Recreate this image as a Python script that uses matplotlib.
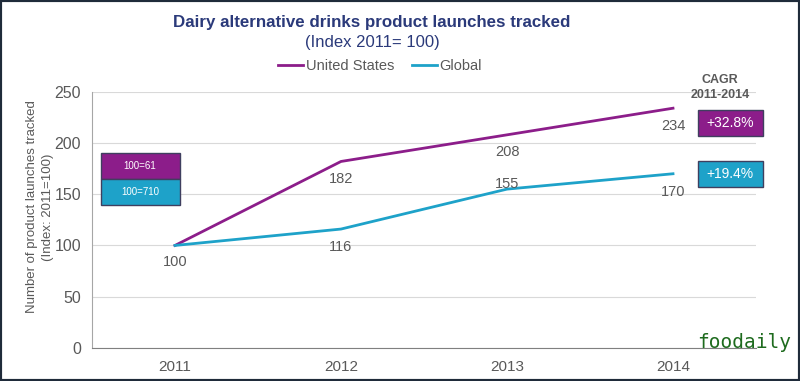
import matplotlib.pyplot as plt
import matplotlib.patches as mpatches
from matplotlib import font_manager

# data
years = ['2011', '2012', '2013', '2014']
us_index = [100, 182, 208, 234]
global_index = [100, 116, 155, 170]
base_labels = ['100=61', '100=710']
cagr_labels = ['+32.8%', '+19.4%']

PURPLE = '#8C1D8A'
CYAN = '#1EA2C9'
GREY = '#595959'
NAVY = '#2B3A7A'

names = {f.name for f in font_manager.fontManager.ttflist}
NARROW = 'Liberation Sans Narrow' if 'Liberation Sans Narrow' in names else 'Liberation Sans'
plt.rcParams['font.family'] = ['Liberation Sans', 'DejaVu Sans']

# label offsets (points)
us_off = [(0, -12), (0, -12.5), (0, -12.5), (0, -13)]
gl_off = [(0, -12), (0, -13), (0, 4), (0, -13)]

fig = plt.figure(figsize=(8, 3.81), dpi=100)
ax = fig.add_axes([0.115, 0.087, 0.83, 0.672])

x = range(len(years))
ax.plot(x, us_index, color=PURPLE, lw=2, label='United States', zorder=3)
ax.plot(x, global_index, color=CYAN, lw=2, label='Global', zorder=3)

for i, v in enumerate(us_index):
    ax.annotate(str(v), (i, v), xytext=us_off[i], textcoords='offset points',
                ha='center', va='center', fontsize=10.5, color=GREY)
for i, v in enumerate(global_index):
    if i == 0:
        continue
    ax.annotate(str(v), (i, v), xytext=gl_off[i], textcoords='offset points',
                ha='center', va='center', fontsize=10.5, color=GREY)

ax.set_xlim(-0.5, 3.5)
ax.set_ylim(0, 250)
ax.set_yticks(range(0, 251, 50))
ax.set_xticks(list(x))
ax.set_xticklabels(years)
ax.tick_params(colors=GREY, labelsize=11.5, length=0)
ax.tick_params(axis='y', pad=8)
ax.tick_params(axis='x', pad=9, labelsize=11)
ax.grid(axis='y', color='#D9D9D9', lw=0.8)
ax.set_axisbelow(True)
for s in ['top', 'right']:
    ax.spines[s].set_visible(False)
ax.spines['left'].set_color('#A6A6A6')
ax.spines['bottom'].set_color('#808080')
ax.set_ylabel('Number of product launches tracked\n(Index: 2011=100)',
              color=GREY, fontsize=9.5, linespacing=1.5,
              family=[NARROW, 'DejaVu Sans'])
ax.yaxis.set_label_coords(-0.057, 0.55)

ax.legend(loc='center', bbox_to_anchor=(0.434, 1.0 + 26 / 256), ncol=2, frameon=False,
          prop={'family': [NARROW, 'DejaVu Sans'], 'size': 10.5},
          handlelength=1.7, handletextpad=0.2, columnspacing=1.2,
          labelcolor=GREY)

fig.text(372 / 800, 1 - 23 / 381, 'Dairy alternative drinks product launches tracked',
         ha='center', va='center', fontsize=12.2, fontweight='bold', color=NAVY,
         family=[NARROW, 'DejaVu Sans'])
fig.text(372 / 800, 1 - 42 / 381, '(Index 2011= 100)', ha='center', va='center',
         fontsize=12, color=NAVY, family=[NARROW, 'DejaVu Sans'])

# base boxes on the left
box_cols = [PURPLE, CYAN]
for k, (lab, col) in enumerate(zip(base_labels, box_cols)):
    y0 = 1 - (179 + 26 * k) / 381
    fig.patches.append(mpatches.Rectangle((101 / 800, y0), 79 / 800, 26 / 381,
                                          transform=fig.transFigure, facecolor=col,
                                          edgecolor='#3F3F5F', lw=1, zorder=5))
    fig.text(140 / 800, y0 + 13 / 381, lab, ha='center', va='center',
             fontsize=7, color='white', zorder=6)

# CAGR boxes
fig.text(720 / 800, 1 - 80 / 381, 'CAGR', ha='center', va='center',
         fontsize=9, fontweight='bold', color=GREY)
fig.text(720 / 800, 1 - 95 / 381, '2011-2014', ha='center', va='center',
         fontsize=9, fontweight='bold', color=GREY)
for k, (lab, col) in enumerate(zip(cagr_labels, box_cols)):
    top = [110, 161][k]
    y0 = 1 - (top + 26) / 381
    fig.patches.append(mpatches.Rectangle((698 / 800, y0), 65 / 800, 26 / 381,
                                          transform=fig.transFigure, facecolor=col,
                                          edgecolor='#3F3F5F', lw=1, zorder=5))
    fig.text(730 / 800, y0 + 13 / 381, lab, ha='center', va='center',
             fontsize=10, color='white', zorder=6)

# watermark
fig.text(744 / 800, 1 - 343 / 381, 'foodaily', ha='center', va='center',
         fontsize=14, color='#1E6B1E', family='DejaVu Sans Mono')

# frame
fig.patches.append(mpatches.Rectangle((0, 0), 1, 1, transform=fig.transFigure,
                                      fill=False, edgecolor='#1F2B3A', lw=3))

fig.savefig('out.png', dpi=100)
